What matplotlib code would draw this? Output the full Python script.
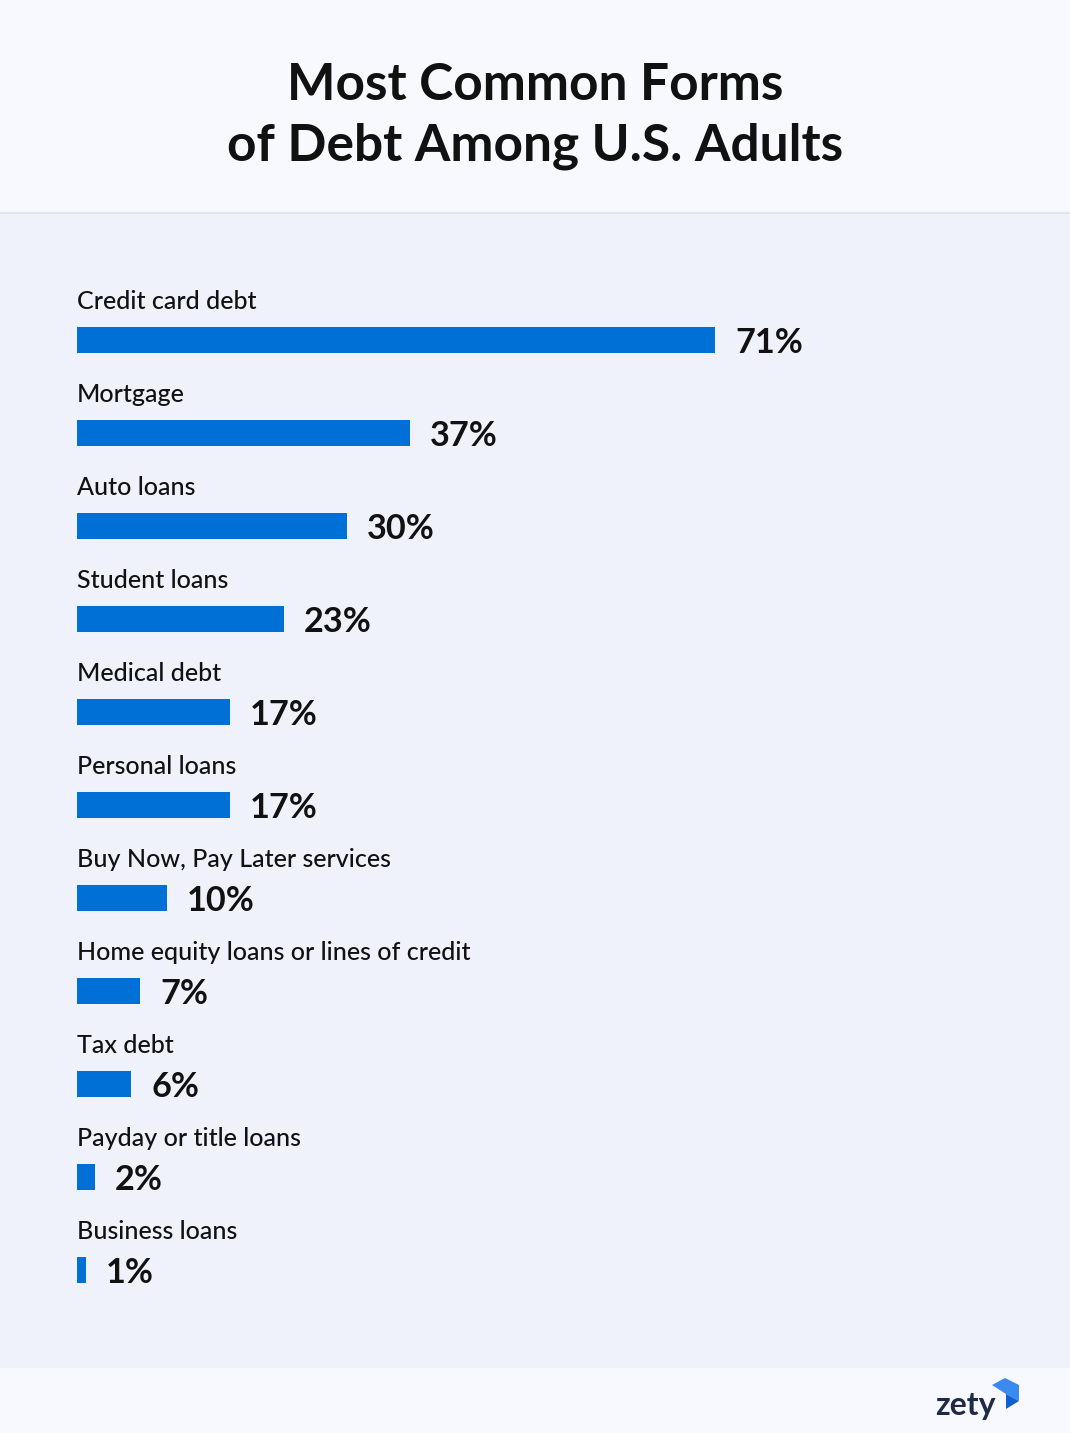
import matplotlib
matplotlib.use("Agg")
import matplotlib.pyplot as plt
from matplotlib.patches import Rectangle, Polygon

# data
categories = ["Credit card debt", "Mortgage", "Auto loans", "Student loans",
              "Medical debt", "Personal loans", "Buy Now, Pay Later services",
              "Home equity loans or lines of credit", "Tax debt",
              "Payday or title loans", "Business loans"]
values = [71, 37, 30, 23, 17, 17, 10, 7, 6, 2, 1]
title = "Most Common Forms\nof Debt Among U.S. Adults"

W, H = 1070, 1433
bar_color = "#006FD6"
text_color = "#111111"
plt.rcParams['font.family'] = ['Lato', 'DejaVu Sans']

fig = plt.figure(figsize=(W / 100, H / 100), dpi=100)
fig.patch.set_facecolor("#EFF2FA")

# header and footer bands
fig.add_artist(Rectangle((0, 1 - 213 / H), 1, 213 / H, transform=fig.transFigure,
                         facecolor="#F8F9FE", edgecolor="none"))
fig.add_artist(Rectangle((0, 1 - 214 / H), 1, 1.5 / H, transform=fig.transFigure,
                         facecolor="#E2E5EC", edgecolor="none"))
fig.add_artist(Rectangle((0, 0), 1, (H - 1368) / H, transform=fig.transFigure,
                         facecolor="#F8F9FE", edgecolor="none"))

fig.text(0.5, 1 - 116 / H, title, ha="center", va="center", fontsize=37,
         fontweight="bold", color=text_color, linespacing=1.33)

# bar area: x from 77px, 8.99 px per percent; rows 93px apart starting at 340px
left = 77
px_per = 8.99
xmax = 100
top, bottom = 213, 1368
ax = fig.add_axes([left / W, (H - bottom) / H, xmax * px_per / W, (bottom - top) / H])
ax.set_facecolor("none")
ax.set_xlim(0, xmax)
ax.set_ylim((bottom - 340) / 93, (top - 340) / 93)
ax.axis("off")

ypos = list(range(len(categories)))
ax.barh(ypos, values, height=26 / 93, color=bar_color, align="center")
for y, cat, v in zip(ypos, categories, values):
    ax.text(0, y - 0.41, cat, ha="left", va="center", fontsize=18, fontweight="medium",
            color=text_color)
    ax.annotate(f"{v}%", (v, y), xytext=(14.5, -2.5), textcoords="offset points",
                ha="left", va="center", fontsize=24.7, fontweight="bold", color=text_color)

# zety logo
fig.text(935 / W, 1 - 1405 / H, "zety", ha="left", va="center", fontsize=23,
         fontweight="bold", color="#1F2A44")
def px(pts):
    return [(x / W, 1 - y / H) for x, y in pts]
fig.add_artist(Polygon(px([(992, 1385), (1005, 1378), (1019, 1385), (1019, 1401),
                           (1006, 1394)]), closed=True, transform=fig.transFigure,
                       facecolor="#3B8AF0", edgecolor="none"))
fig.add_artist(Polygon(px([(1006, 1394), (1019, 1401), (1006, 1409)]), closed=True,
                       transform=fig.transFigure, facecolor="#0F5FD0", edgecolor="none"))

fig.savefig("out.png", dpi=100, facecolor=fig.get_facecolor())
